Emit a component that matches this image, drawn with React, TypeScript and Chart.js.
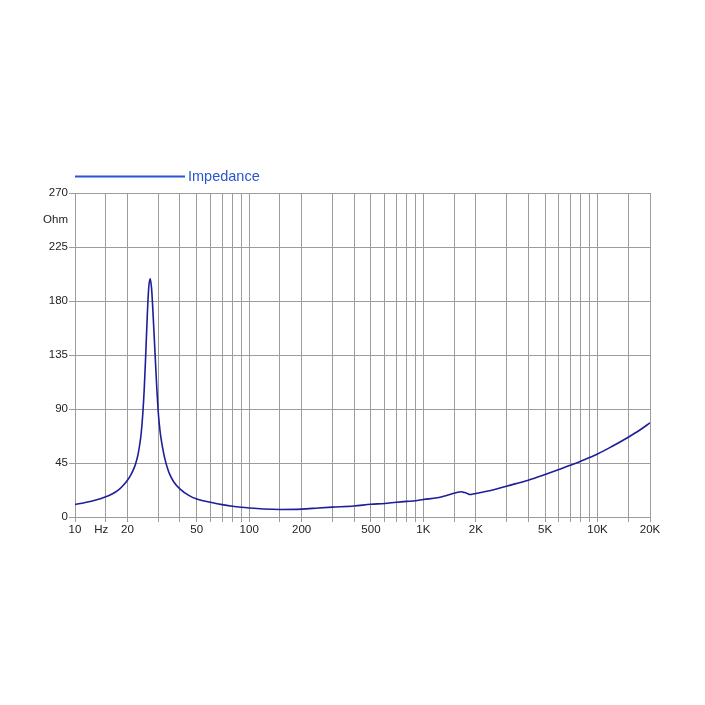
import React, { useEffect, useRef } from 'react';
import { Chart, registerables } from 'chart.js';

Chart.register(...registerables);

// ---- data ----
const seriesName = 'Impedance';

const frequencies = [
  10, 11, 12, 13, 14, 15, 16, 17, 18, 19, 20, 21, 22, 22.5, 23, 23.5, 24, 24.5, 25, 25.5, 26, 26.5,
  27, 27.5, 28, 28.5, 29, 29.5, 30, 30.5, 31, 32, 33, 34, 35, 37, 40, 45, 50, 60, 70, 80, 90,
  100, 120, 150, 200, 250, 300, 400, 500, 600, 700, 800, 900, 1000, 1200, 1400, 1500,
  1600, 1650, 1700, 1750, 1800, 1850, 1900, 2000, 2500, 3000, 4000, 5000, 6000, 7000,
  8000, 10000, 12000, 15000, 17500, 20000,
];

const impedance = [
  10.5, 11.5, 12.7, 14, 15.3, 16.8, 18.5, 20.6, 23.2, 26.6, 30.6, 35.6, 42, 46.5, 52, 60, 70, 86, 108, 137, 168, 191,
  198.5, 191, 172, 150, 128, 107, 89, 77, 68, 56, 47, 40.5, 35.5, 29, 23.5, 18, 15, 12.3, 10.3, 9, 8.1,
  7.5, 6.7, 6.3, 6.6, 7.5, 8.2, 9.2, 10.6, 11.3, 12.3, 13, 13.5, 14.6, 16, 18.5, 19.8,
  20.8, 21.1, 20.5, 20.2, 19.3, 18.7, 18.9, 19.6, 22.5, 25.7, 30.7, 35.4, 39.5, 43.2,
  46.5, 52.5, 58.5, 66.5, 72.5, 78.5,
];

const gridFrequencies = [
  10, 15, 20, 30, 40, 50, 60, 70, 80, 90,
  100, 150, 200, 300, 400, 500, 600, 700, 800, 900,
  1000, 1500, 2000, 3000, 4000, 5000, 6000, 7000, 8000, 9000,
  10000, 15000, 20000,
];
const labeledFrequencies = [10, 20, 50, 100, 200, 500, 1000, 2000, 5000, 10000, 20000];
const frequencyLabels = ['10', '20', '50', '100', '200', '500', '1K', '2K', '5K', '10K', '20K'];
const xUnitPosition = 14.142;
const xUnitLabel = 'Hz';

const yTickValues = [0, 45, 90, 135, 180, 225, 270];
const yUnitPosition = 247.5;
const yUnitLabel = 'Ohm';

// ---- styles ----
const GRID = '#9c9c9c';
const TEXT = '#222222';
const CURVE = '#1e1e9a';
const LEGEND = '#2a55d0';
const FONT = '"Liberation Sans", Arial, sans-serif';

const legendPlugin = {
  id: 'customLegend',
  afterDraw(chart: any) {
    const ctx = chart.ctx;
    const left = chart.chartArea.left;
    ctx.save();
    ctx.strokeStyle = LEGEND;
    ctx.lineWidth = 2;
    ctx.beginPath();
    ctx.moveTo(left, 176.5);
    ctx.lineTo(left + 110, 176.5);
    ctx.stroke();
    ctx.fillStyle = LEGEND;
    ctx.font = `14.5px ${FONT}`;
    ctx.textBaseline = 'alphabetic';
    ctx.textAlign = 'left';
    ctx.fillText(chart.data.datasets[0].label, left + 113, 181);
    ctx.restore();
  },
};

export default function App() {
  const ref = useRef<HTMLCanvasElement | null>(null);

  useEffect(() => {
    if (!ref.current) return;
    const xGridColor = (c: any) =>
      c.tick && Math.abs(c.tick.value - xUnitPosition) < 1e-6 ? 'rgba(0,0,0,0)' : GRID;
    const yGridColor = (c: any) =>
      c.tick && c.tick.value === yUnitPosition ? 'rgba(0,0,0,0)' : GRID;

    const chart = new Chart(ref.current, {
      type: 'scatter',
      data: {
        datasets: [
          {
            label: seriesName,
            data: frequencies.map((f, i) => ({ x: f, y: impedance[i] })),
            showLine: true,
            borderColor: CURVE,
            backgroundColor: CURVE,
            borderWidth: 1.6,
            pointRadius: 0,
            fill: false,
            cubicInterpolationMode: 'monotone',
          } as any,
        ],
      },
      options: {
        responsive: false,
        animation: false,
        layout: { padding: { top: 193, left: 0, right: 55, bottom: 0 } },
        plugins: { legend: { display: false }, tooltip: { enabled: false } },
        scales: {
          x: {
            type: 'logarithmic',
            min: 10,
            max: 20000,
            afterBuildTicks: (s: any) => {
              s.ticks = [...gridFrequencies, xUnitPosition]
                .sort((a, b) => a - b)
                .map((v) => ({ value: v }));
            },
            afterFit: (s: any) => {
              s.height = 188;
            },
            ticks: {
              autoSkip: false,
              maxRotation: 0,
              minRotation: 0,
              padding: 1,
              color: TEXT,
              font: { family: FONT, size: 11.5 },
              callback: (v: any) => {
                const val = Number(v);
                if (Math.abs(val - xUnitPosition) < 1e-6) return xUnitLabel;
                const i = labeledFrequencies.indexOf(val);
                return i >= 0 ? frequencyLabels[i] : '';
              },
            },
            grid: { color: xGridColor, tickColor: xGridColor, tickLength: 5, lineWidth: 1 },
            border: { color: GRID },
          },
          y: {
            type: 'linear',
            min: 0,
            max: 270,
            afterBuildTicks: (s: any) => {
              s.ticks = [...yTickValues, yUnitPosition]
                .sort((a, b) => a - b)
                .map((v) => ({ value: v }));
            },
            afterFit: (s: any) => {
              s.width = 75;
            },
            ticks: {
              padding: 1,
              color: TEXT,
              font: { family: FONT, size: 11.5 },
              callback: (v: any) => (Number(v) === yUnitPosition ? yUnitLabel : String(v)),
            },
            grid: { color: yGridColor, tickColor: yGridColor, tickLength: 6, lineWidth: 1 },
            border: { color: GRID },
          },
        },
      } as any,
      plugins: [legendPlugin],
    });
    return () => chart.destroy();
  }, []);

  return (
    <div style={{ position: 'absolute', left: 0, top: 0, width: 705, height: 705, background: '#fff' }}>
      <canvas ref={ref} width={705} height={705} style={{ display: 'block', width: 705, height: 705 }} />
    </div>
  );
}
